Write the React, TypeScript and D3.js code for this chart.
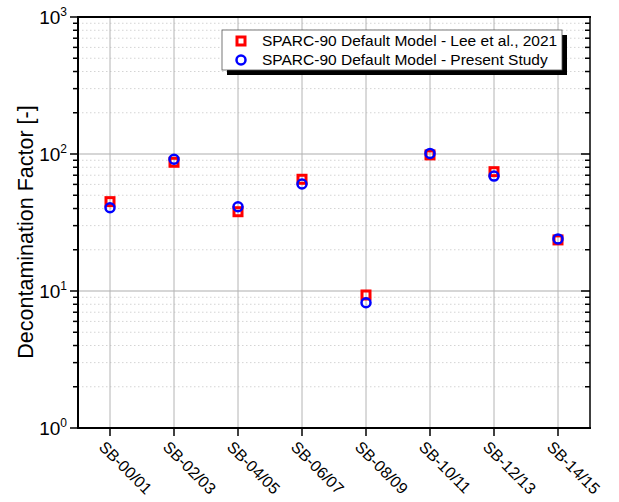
import React from "react";
import * as d3 from "d3";

const categories = ["SB-00/01", "SB-02/03", "SB-04/05", "SB-06/07", "SB-08/09", "SB-10/11", "SB-12/13", "SB-14/15"];
const leeValues = [44.9, 87, 37.9, 65.4, 9.35, 98.5, 74.3, 23.6];
const presentValues = [40.5, 91.5, 41.2, 60.4, 8.2, 101, 69, 24];
const yTickExponents = [0, 1, 2, 3];
const legendLabels = ["SPARC-90 Default Model - Lee et al., 2021", "SPARC-90 Default Model - Present Study"];
const yTitle = "Decontamination Factor [-]";

export default function App() {
  const W = 619, H = 502;
  const left = 78, right = 590, top = 17, bottom = 428;
  const x = d3.scaleBand<string>().domain(categories).range([left, right]);
  const y = d3.scaleLog().domain([1, 1000]).range([bottom, top]);
  const cx = (c: string) => (x(c) as number) + x.bandwidth() / 2;
  const minor: number[] = [];
  for (let e = 0; e < 3; e++) for (let m = 2; m <= 9; m++) minor.push(m * Math.pow(10, e));
  const font = "Arial, 'Liberation Sans', sans-serif";
  return (
    <svg width={W} height={H} style={{ position: "absolute", left: 0, top: 0 }} fontFamily={font}>
      <rect width={W} height={H} fill="#fff" />
      {/* minor grid */}
      {minor.map((v, i) => (
        <line key={"mg" + i} x1={left} x2={right} y1={y(v)} y2={y(v)} stroke="#d4d4d4" strokeWidth={1} strokeDasharray="1.5,2.5" />
      ))}
      {/* major grid */}
      {yTickExponents.map((e) => (
        <line key={"Mg" + e} x1={left} x2={right} y1={y(Math.pow(10, e))} y2={y(Math.pow(10, e))} stroke="#c8c8c8" strokeWidth={1.5} />
      ))}
      {categories.map((c) => (
        <line key={"vg" + c} x1={cx(c)} x2={cx(c)} y1={top} y2={bottom} stroke="#b4b4b4" strokeWidth={1} />
      ))}
      {/* axes frame */}
      <line x1={left} x2={left} y1={top - 1} y2={bottom + 1} stroke="#000" strokeWidth={2} />
      <line x1={left - 1} x2={right + 1} y1={bottom} y2={bottom} stroke="#000" strokeWidth={2} />
      <line x1={left - 1} x2={right + 1} y1={top} y2={top} stroke="#000" strokeWidth={2} />
      <line x1={right} x2={right} y1={top} y2={bottom} stroke="#000" strokeWidth={1.5} />
      {/* y ticks */}
      {yTickExponents.map((e) => (
        <g key={"lt" + e}>
          <line x1={left - 8} x2={left} y1={y(Math.pow(10, e))} y2={y(Math.pow(10, e))} stroke="#000" strokeWidth={1.5} />
          <line x1={right - 9} x2={right} y1={y(Math.pow(10, e))} y2={y(Math.pow(10, e))} stroke="#000" strokeWidth={1.5} />
          <text x={left - 11} y={y(Math.pow(10, e)) + 7} fontSize={19} textAnchor="end" fill="#000">
            10<tspan fontSize={12} dy={-8}>{e}</tspan>
          </text>
        </g>
      ))}
      {minor.map((v, i) => (
        <g key={"mt" + i}>
          <line x1={left - 5} x2={left} y1={y(v)} y2={y(v)} stroke="#000" strokeWidth={1.5} />
          <line x1={right - 5} x2={right} y1={y(v)} y2={y(v)} stroke="#000" strokeWidth={1.5} />
        </g>
      ))}
      {/* x ticks & labels */}
      {categories.map((c) => (
        <g key={"xt" + c}>
          <line x1={cx(c)} x2={cx(c)} y1={bottom} y2={bottom + 8} stroke="#000" strokeWidth={1.5} />
          <text transform={`translate(${cx(c) - 12},${bottom + 20}) rotate(45)`} fontSize={16} fill="#000">{c}</text>
        </g>
      ))}
      <text transform={`translate(33,232) rotate(-90)`} textAnchor="middle" fontSize={21.5} fill="#000">{yTitle}</text>
      {/* data */}
      {categories.map((c, i) => (
        <rect key={"r" + c} x={cx(c) - 4} y={y(leeValues[i]) - 4} width={8} height={8} fill="none" stroke="#ff0000" strokeWidth={3} />
      ))}
      {categories.map((c, i) => (
        <circle key={"c" + c} cx={cx(c)} cy={y(presentValues[i])} r={4.5} fill="none" stroke="#0000ff" strokeWidth={2.5} />
      ))}
      {/* legend */}
      <rect x={227} y={35} width={340} height={40} fill="#000" />
      <rect x={222} y={30} width={340} height={40} fill="#fff" stroke="#555" strokeWidth={0.8} />
      <rect x={237} y={37} width={8} height={8} fill="none" stroke="#ff0000" strokeWidth={3} />
      <circle cx={241} cy={60} r={4.5} fill="none" stroke="#0000ff" strokeWidth={2.5} />
      <text x={262} y={46} fontSize={15.5} fill="#000">{legendLabels[0]}</text>
      <text x={262} y={65} fontSize={15.5} fill="#000">{legendLabels[1]}</text>
    </svg>
  );
}
